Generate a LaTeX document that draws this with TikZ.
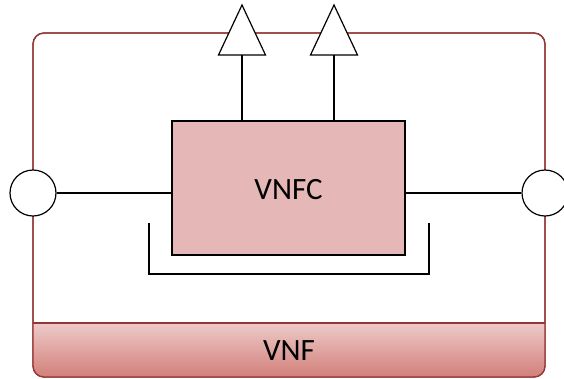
\documentclass[tikz,border=0pt]{standalone}
\usepackage{fontspec}
\setmainfont{Carlito}
\definecolor{vnfred}{HTML}{943634}
\definecolor{vnfcfill}{HTML}{E5B8B7}
\definecolor{bandtop}{HTML}{EDCAC8}
\definecolor{bandbot}{HTML}{D27F7A}
\tikzset{
  blk/.style={draw=black, line width=1.2pt},
  port/.style={circle, draw=black, line width=1.2pt, fill=white, minimum size=46pt, inner sep=0pt},
  lbl/.style={font=\fontsize{31}{33}\selectfont, text=black}
}
\begin{document}
\begin{tikzpicture}[x=1pt,y=-1pt]
\useasboundingbox (0,0) rectangle (564,378);
% outer VNF box
\node[draw=vnfred, line width=1.3pt, rounded corners=11pt, minimum width=512pt, minimum height=344pt, inner sep=0pt] (vnf) at (289,205) {};
\begin{scope}
\clip[rounded corners=11pt] (33,33) rectangle (545,377);
\shade[top color=bandtop, bottom color=bandbot] (33,323) rectangle (545,377);
\end{scope}
\draw[vnfred, line width=1.3pt, rounded corners=11pt] (33,33) rectangle (545,377);
\coordinate (bandL) at (33,323);
\coordinate (bandR) at (545,323);
\draw[vnfred, line width=1.3pt] (bandL) -- (bandR);
\node[lbl] (vnflbl) at (289,351) {VNF};
% VNFC
\node[blk, fill=vnfcfill, minimum width=233pt, minimum height=134pt, inner sep=0pt] (vnfc) at (288.5,188) {};
\node[lbl] (vnfclbl) at (288.5,190) {VNFC};
% bracket
\coordinate (brl) at (149,223);
\coordinate (brr) at (429,223);
\draw[black, line width=2.4pt] (brl) -- (149,274) -- (429,274) -- (brr);
% ports
\node[port] (p1) at (33,193) {};
\node[port] (p2) at (545,193) {};
\draw[blk] (p1.east) -- (p1.east -| vnfc.west);
\draw[blk] (p2.west) -- (p2.west -| vnfc.east);
% triangles
\coordinate (t1) at (242,55);
\coordinate (t2) at (334,55);
\draw[blk, fill=white, line join=miter] (t1) ++(-23.5,0) -- ++(23.5,-50) -- ++(23.5,50) -- cycle;
\draw[blk, fill=white, line join=miter] (t2) ++(-23.5,0) -- ++(23.5,-50) -- ++(23.5,50) -- cycle;
\draw[blk] (vnfc.north -| t1) -- (t1);
\draw[blk] (vnfc.north -| t2) -- (t2);
\end{tikzpicture}
\end{document}
